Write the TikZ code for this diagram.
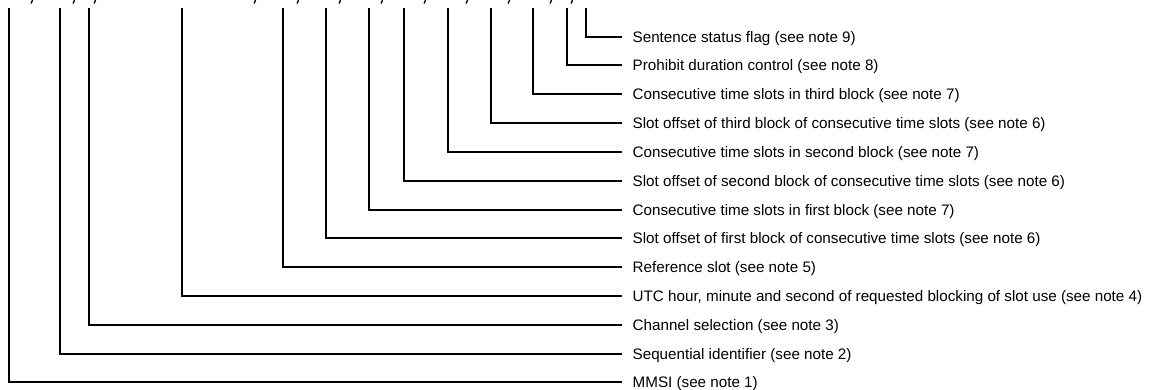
\documentclass[tikz,border=0pt]{standalone}
\usepackage{fontspec}
\setmainfont{Liberation Sans}
\begin{document}
\begin{tikzpicture}[x=1pt,y=-1pt,
  fieldlabel/.style={anchor=west,inner xsep=10.5pt,inner ysep=0pt,text height=10.6pt,text depth=0pt,font=\fontsize{15.2}{18}\selectfont},
  leader/.style={line width=1.7pt,line join=miter},
  tail/.style={line width=1.3pt,line cap=round}]
\useasboundingbox (0,0) rectangle (1151,390);
% comma tails of the cropped sentence above
\foreach \cx in {32,74,95,255,298,340,382,425,467,509,551,572}
  \draw[tail] (\cx+0.6,0) -- (\cx-0.8,3.2);
\foreach \n/\vx/\ty/\txt in {
  1/586/37/{Sentence status flag (see note 9)},
  2/567/65/{Prohibit duration control (see note 8)},
  3/533/94/{Consecutive time slots in third block (see note 7)},
  4/491/123/{Slot offset of third block of consecutive time slots (see note 6)},
  5/448/152/{Consecutive time slots in second block (see note 7)},
  6/404/181/{Slot offset of second block of consecutive time slots (see note 6)},
  7/369/210/{Consecutive time slots in first block (see note 7)},
  8/326/238/{Slot offset of first block of consecutive time slots (see note 6)},
  9/283/267/{Reference slot (see note 5)},
  10/182/296/{UTC hour, minute and second of requested blocking of slot use (see note 4)},
  11/89/325/{Channel selection (see note 3)},
  12/60/354/{Sequential identifier (see note 2)},
  13/9/382/{MMSI (see note 1)}}
{
  \coordinate (top\n) at (\vx,8.3);
  \node[fieldlabel] (lab\n) at (622,\ty) {\txt};
  \draw[leader] (top\n) |- (lab\n.west);
}
\end{tikzpicture}
\end{document}
